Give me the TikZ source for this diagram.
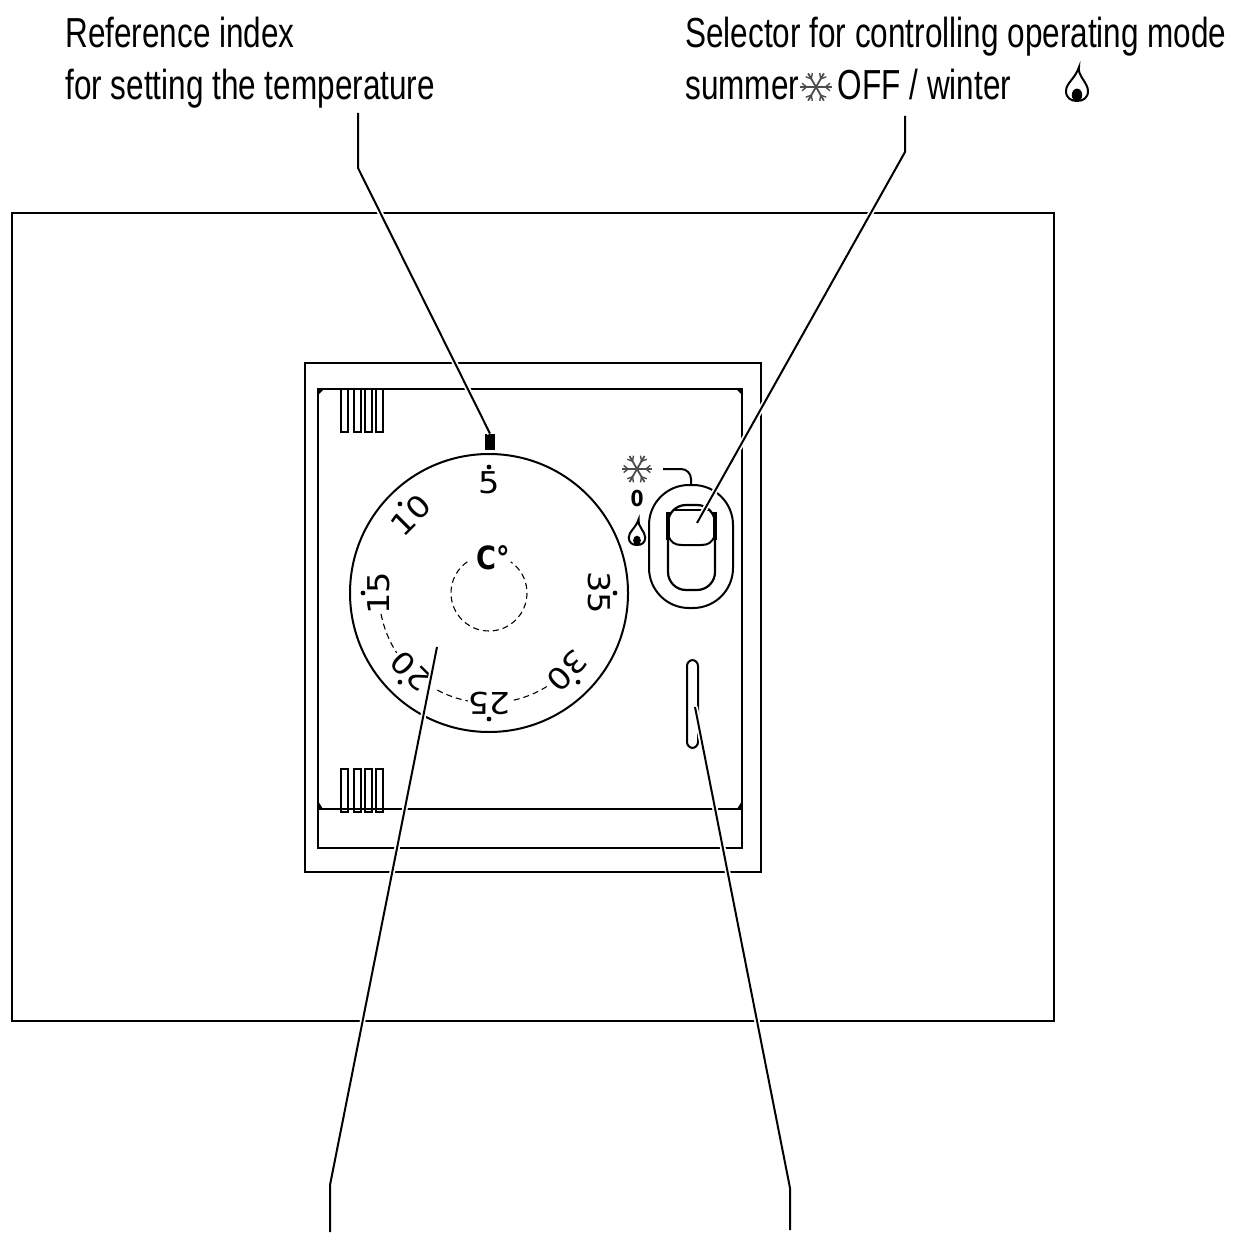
\documentclass[tikz,border=0pt]{standalone}
\usepackage{fontspec}
\setmainfont[FakeStretch=0.75]{Liberation Sans}
\newfontfamily\dialfont[FakeStretch=1.12]{DejaVu Sans}
\newfontfamily\markfont[FakeStretch=0.85]{DejaVu Sans}
\usetikzlibrary{positioning}
\usetikzlibrary{calc}
\tikzset{
	caption/.style={anchor=north west,align=left,inner sep=0pt,font=\fontsize{21}{26}\selectfont},
	frame/.style={draw,line width=1.2pt},
	leader/.style={draw,line width=1pt,preaction={draw=white,line width=2.8pt}},
	dialdash/.style={draw,line width=0.55pt,densely dashed},
	scale num/.style={font=\dialfont\fontsize{15}{15}\selectfont,inner sep=0pt},
	snowicon/.pic={
		\foreach \ang in {0,60,...,300}{
			\draw[line width=0.9pt,gray!60!black] (0,0) -- (\ang:7.5pt);
			\draw[line width=0.7pt,gray!60!black] (\ang:4.5pt) -- ++(\ang+40:2.8pt) (\ang:4.5pt) -- ++(\ang-40:2.8pt);
		}
	},
	flameicon/.pic={
		\draw[line width=1pt,fill=white] (1pt,9pt) .. controls (0pt,5pt) and (5.5pt,1pt) .. (5.5pt,-3pt)
			.. controls (5.5pt,-6.5pt) and (3pt,-8pt) .. (0pt,-8pt)
			.. controls (-3pt,-8pt) and (-5.5pt,-6.5pt) .. (-5.5pt,-3pt)
			.. controls (-5.5pt,1pt) and (-1pt,3pt) .. cycle;
		\fill (0pt,-5pt) ellipse [x radius=2.6pt,y radius=3.2pt];
	}
}
\begin{document}
\begin{tikzpicture}[x=0.5pt,y=-0.5pt]
	\useasboundingbox (0,0) rectangle (1232,1240);
	\node[caption] (indexlabel) at (65,17) {Reference index\\for setting the temperature};
	\node[caption] (modelabel) at (685,17) {Selector for controlling operating mode\\summer \hspace{15pt}OFF / winter};
	\path (816,87) pic[scale=1.05] {snowicon};
	\path (1077,85) pic {flameicon};

	\draw[frame] (12,213) rectangle (1054,1021);
	\draw[frame] (305,363) rectangle (761,872);
	\draw[frame,line width=1pt] (318,389) rectangle (742,848);
	\draw[frame,line width=1pt] (318,809) -- (742,809);
	\fill (318,389) -- (324,389) -- (318,395) -- cycle;
	\fill (742,389) -- (736,389) -- (742,395) -- cycle;
	\fill (318,809) -- (318,801) -- (323,809) -- cycle;
	\fill (742,809) -- (742,801) -- (737,809) -- cycle;
	\foreach \fin in {341,354,365,376}{
		\draw[line width=1pt] (\fin,389) rectangle ++(7,43);
		\draw[line width=1pt] (\fin,769) rectangle ++(7,43);
	}

	\node[draw,circle,line width=1pt,minimum size=139pt,inner sep=0pt] (dial) at (489,593) {};
	\node[fill,minimum width=5pt,minimum height=8pt,inner sep=0pt] (index) at (490,442) {};
	\node[font=\markfont\bfseries\fontsize{16}{16}\selectfont,inner sep=0pt] (unit) at (493,558) {C°};
	\foreach \val/\ang in {5/90,10/135,15/180,20/225,25/270,30/315,35/360}{
		\fill ([shift={(\ang:63pt)}]dial.center) circle (1.2pt);
		\node[scale num,rotate=\ang-90] (num\val) at ([shift={(\ang:55pt)}]dial.center) {\val};
	}
	\draw[dialdash] ([shift={(125:19pt)}]dial.center) arc[start angle=125,end angle=415,radius=19pt];
	\foreach \from/\to in {191/213,242/259,283/303}{
		\draw[dialdash] ([shift={(\from:55pt)}]dial.center) arc[start angle=\from,end angle=\to,radius=55pt];
	}

	\path (637,469) pic {snowicon};
	\node[font=\markfont\bfseries\fontsize{11}{11}\selectfont,inner sep=0pt] (offmark) at (637,498) {0};
	\path (637,533) pic[scale=0.75] {flameicon};
	\draw[line width=1pt,rounded corners=5pt] (663,469) -- (691,469) -- (691,485);
	\draw[line width=1pt,rounded corners=20pt] (649,485) rectangle (733,608);
	\draw[line width=1.1pt,rounded corners=9pt] (668,505) rectangle (715,590);
	\draw[line width=0.8pt] (673,510) -- (710,510);
	\draw[line width=2pt] (668,512) -- (668,540) (715,512) -- (715,540);
	\draw[line width=1pt] (668,535) .. controls (671,543) and (675,545) .. (682,545) -- (701,545) .. controls (708,545) and (712,543) .. (715,535);
	\draw[line width=1pt,rounded corners=3pt] (687,660) rectangle (698,748);

	\coordinate (modetip) at (697,523);
	\coordinate (dialtip) at (437,647);
	\coordinate (slottip) at (695,707);
	\path[leader] (358,113) -- (358,168) -- (index.north);
	\path[leader] (905,116) -- (905,152) -- (modetip);
	\path[leader] (330,1232) -- (330,1185) -- (dialtip);
	\path[leader] (790,1230) -- (790,1188) -- (slottip);
\end{tikzpicture}
\end{document}
